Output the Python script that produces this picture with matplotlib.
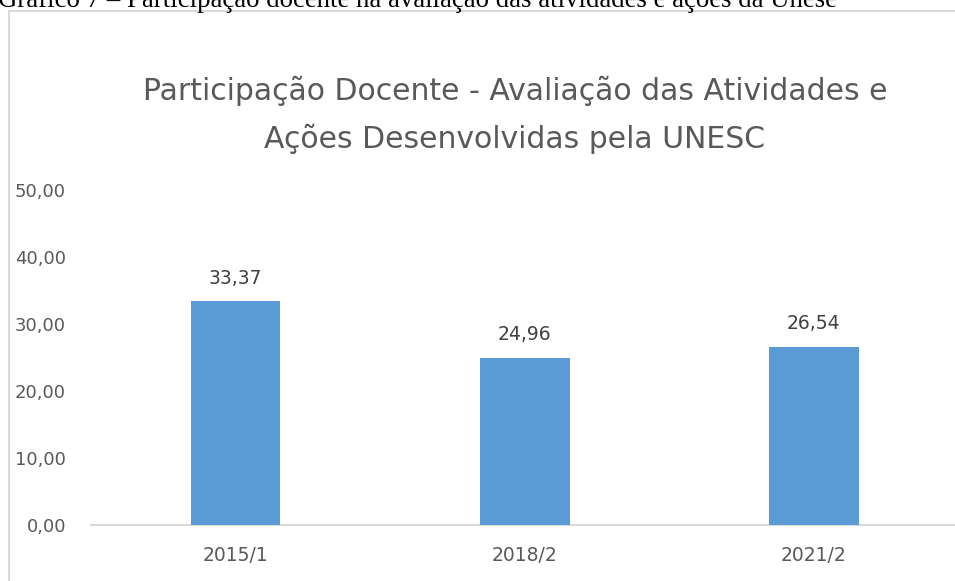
import matplotlib.pyplot as plt
from matplotlib.lines import Line2D

# data
categories = ['2015/1', '2018/2', '2021/2']
values = [33.37, 24.96, 26.54]
y_ticks = [0, 10, 20, 30, 40, 50]

caption = 'Gráfico 7 – Participação docente na avaliação das atividades e ações da Unese'
title = 'Participação Docente - Avaliação das Atividades e\nAções Desenvolvidas pela UNESC'

W, H = 955, 581
fig = plt.figure(figsize=(W / 100, H / 100), dpi=100)

def fx(px):
    return px / W

def fy(py):
    return 1 - py / H

# axes placed in pixels: left 91, right ~958, y=0 at 525, y=50 at 190
ax = fig.add_axes([fx(91), fy(525), fx(958.5 - 91), (525 - 190) / H])

bar_color = '#5b9bd5'
text_gray = '#595959'
font = 'DejaVu Sans'

x = range(len(categories))
ax.bar(x, values, width=0.31, color=bar_color, zorder=3)
for xi, v in zip(x, values):
    ax.annotate(f'{v:.2f}'.replace('.', ','), (xi, v), xytext=(0, 10),
                textcoords='offset points', ha='center', va='bottom',
                fontsize=13.5, color='#404040', family=font)

ax.set_xlim(-0.5, 2.5)
ax.set_ylim(0, 50)
ax.set_yticks(y_ticks)
ax.set_yticklabels([f'{t:.2f}'.replace('.', ',') for t in y_ticks],
                   fontsize=13, color=text_gray, family=font)
ax.set_xticks(list(x))
ax.set_xticklabels(categories, fontsize=13.5, color=text_gray, family=font)
ax.tick_params(axis='both', length=0)
ax.tick_params(axis='y', pad=18)
ax.tick_params(axis='x', pad=15)
for s in ['top', 'right', 'left']:
    ax.spines[s].set_visible(False)
ax.spines['bottom'].set_color('#d9d9d9')
ax.spines['bottom'].set_linewidth(1.5)
ax.spines['bottom'].set_clip_on(False)

# chart title
fig.text(fx(515), fy(115), title, ha='center', va='center', fontsize=21.5,
         color=text_gray, family=font, linespacing=1.7)

# caption cut off at top of the page crop
fig.text(fx(-2), fy(7), caption, ha='left', va='baseline', fontsize=19.3,
         color='black', family='Liberation Serif')

# chart frame (left and top edges)
fig.add_artist(Line2D([fx(9), fx(9)], [fy(11), fy(600)], color='#d9d9d9', lw=1.5))
fig.add_artist(Line2D([fx(9), fx(960)], [fy(11), fy(11)], color='#d9d9d9', lw=1.5))

fig.savefig('out.png', dpi=100)
